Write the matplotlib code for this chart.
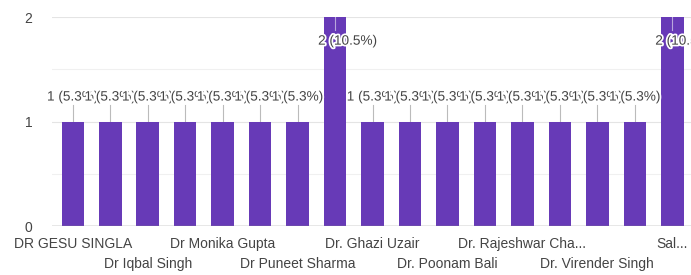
import matplotlib

matplotlib.use("Agg")
import matplotlib.pyplot as plt
import matplotlib.patheffects as pe

plt.rcParams["font.family"] = ["Liberation Sans", "DejaVu Sans"]

# responses per doctor; only every other name is readable in the chart
names = [
    "DR GESU SINGLA", "", "Dr Iqbal Singh", "", "Dr Monika Gupta", "",
    "Dr Puneet Sharma", "", "Dr. Ghazi Uzair", "", "Dr. Poonam Bali", "",
    "Dr. Rajeshwar Cha...", "", "Dr. Virender Singh", "", "Sal...",
]
counts = [1, 1, 1, 1, 1, 1, 1, 2, 1, 1, 1, 1, 1, 1, 1, 1, 2]
y_ticks = [0, 1, 2]

PURPLE = "#673ab7"
TEXT = "#444444"

total = sum(counts)
x = list(range(len(counts)))

fig = plt.figure(figsize=(6.91, 2.75), dpi=100)
ax = fig.add_axes([0.075, 0.178, 0.925, 0.76])

for y in [0.5, 1.5]:
    ax.axhline(y, color="#f0f0f0", linewidth=0.8, zorder=0)
for y in [1, 2]:
    ax.axhline(y, color="#e4e4e4", linewidth=0.8, zorder=0)
ax.axhline(0, color="#888888", linewidth=1.0, zorder=3)

ax.bar(x, counts, width=0.6, color=PURPLE, zorder=2)

stroke = [pe.withStroke(linewidth=2.5, foreground="white")]
for xi, c in zip(x, counts):
    label = f"{c} ({100 * c / total:.1f}%)"
    if c == 1:
        ax.plot([xi, xi], [c, c + 0.16], color="#bbbbbb", linewidth=0.8, zorder=1)
        ax.annotate(label, (xi, c), xytext=(0, 18), textcoords="offset points",
                    ha="center", va="center", fontsize=9.8, color=TEXT,
                    path_effects=stroke, zorder=4)
    else:
        ax.plot([xi, xi], [c, c - 0.12], color="#b9a6dc", linewidth=0.8, zorder=3)
        ax.annotate(label, (xi, c), xytext=(9, -17), textcoords="offset points",
                    ha="center", va="center", fontsize=9.8, color=TEXT,
                    path_effects=stroke, zorder=4, annotation_clip=False)

ax.set_xlim(-0.56, 16.5)
ax.set_ylim(0, 2)
ax.set_yticks(y_ticks)
ax.set_yticklabels([str(t) for t in y_ticks])

# names alternate between two rows under the axis
shown = [i for i, n in enumerate(names) if n]
row1 = shown[0::2]
row2 = shown[1::2]
ax.set_xticks(row1)
ax.set_xticklabels([names[i] for i in row1])
ax.set_xticks(row2, minor=True)
ax.set_xticklabels([names[i] for i in row2], minor=True)

ax.tick_params(axis="both", which="both", length=0, labelcolor=TEXT, labelsize=10)
ax.tick_params(axis="y", pad=14)
ax.tick_params(axis="x", which="major", pad=8)
ax.tick_params(axis="x", which="minor", pad=22)
for spine in ax.spines.values():
    spine.set_visible(False)

fig.savefig("out.png", dpi=100)
